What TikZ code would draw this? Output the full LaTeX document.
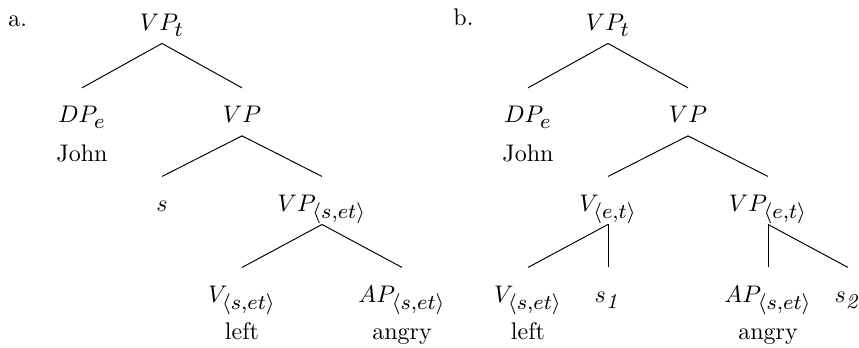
\RequirePackage{fix-cm}
\documentclass[tikz,border=0pt]{standalone}
\DeclareMathSizes{10}{10}{8.8}{6}
\makeatletter
\AtBeginDocument{\check@mathfonts\fontdimen16\textfont2=2.6pt}
\makeatother
\tikzset{
  cat/.style={inner sep=0pt, anchor=base, text height=14.2pt, text depth=5.4pt},
  word/.style={inner sep=0pt, anchor=base},
}

\begin{document}
\begin{tikzpicture}[x=1.1715cm, y=1.1715cm]
  \useasboundingbox (0,0) rectangle (10.7375,-4.3375);

  % Tree a: V and AP combine first
  \begin{scope}[shift={(0,0)}]
    \node[word, anchor=base west] (taga) at (0.1,-0.325) {a.};
    \node[cat] (vpta) at (2.025,-0.375) {$VP_t$};
    \node[cat] (dpa) at (1.025,-1.53) {$DP_e$};
    \node[word] (johna) at (1.025,-2.02) {John};
    \node[cat] (vpa) at (3.025,-1.53) {$VP$};
    \node[cat] (sa) at (2.025,-2.6375) {$s$};
    \node[cat] (vpsa) at (4.025,-2.6375) {$VP_{\langle s,et\rangle}$};
    \node[cat] (va) at (3.025,-3.775) {$V_{\langle s,et\rangle}$};
    \node[word] (lefta) at (3.025,-4.2375) {left};
    \node[cat] (apa) at (5.025,-3.775) {$AP_{\langle s,et\rangle}$};
    \node[word] (angrya) at (5.025,-4.2375) {angry};
    \draw (vpta.south) -- (dpa.north);
    \draw (vpta.south) -- (vpa.north);
    \draw (vpa.south) -- (sa.north);
    \draw (vpa.south) -- (vpsa.north);
    \draw (vpsa.south) -- (va.north);
    \draw (vpsa.south) -- (apa.north);
  \end{scope}

  % Tree b: each predicate takes its own situation
  \begin{scope}[shift={(5.575,0)}]
    \node[word, anchor=base west] (tagb) at (0.0875,-0.3125) {b.};
    \node[cat] (vptb) at (2.025,-0.375) {$VP_t$};
    \node[cat] (dpb) at (1.025,-1.53) {$DP_e$};
    \node[word] (johnb) at (1.025,-2.02) {John};
    \node[cat] (vpb) at (3.025,-1.53) {$VP$};
    \node[cat] (vetb) at (2.025,-2.6375) {$V_{\langle e,t\rangle}$};
    \node[cat] (vpetb) at (4.025,-2.6375) {$VP_{\langle e,t\rangle}$};
    \node[cat] (vb) at (1.025,-3.775) {$V_{\langle s,et\rangle}$};
    \node[word] (leftb) at (1.025,-4.2375) {left};
    \node[cat] (sone) at (2.025,-3.775) {$s_{\mathit{1}}$};
    \node[cat] (apb) at (4.025,-3.775) {$AP_{\langle s,et\rangle}$};
    \node[word] (angryb) at (4.025,-4.2375) {angry};
    \node[cat] (stwo) at (5.025,-3.775) {$s_{\mathit{2}}$};
    \draw (vptb.south) -- (dpb.north);
    \draw (vptb.south) -- (vpb.north);
    \draw (vpb.south) -- (vetb.north);
    \draw (vpb.south) -- (vpetb.north);
    \draw (vetb.south) -- (vb.north);
    \draw (vetb.south) -- (sone.north);
    \draw (vpetb.south) -- (apb.north);
    \draw (vpetb.south) -- (stwo.north);
  \end{scope}
\end{tikzpicture}
\end{document}
